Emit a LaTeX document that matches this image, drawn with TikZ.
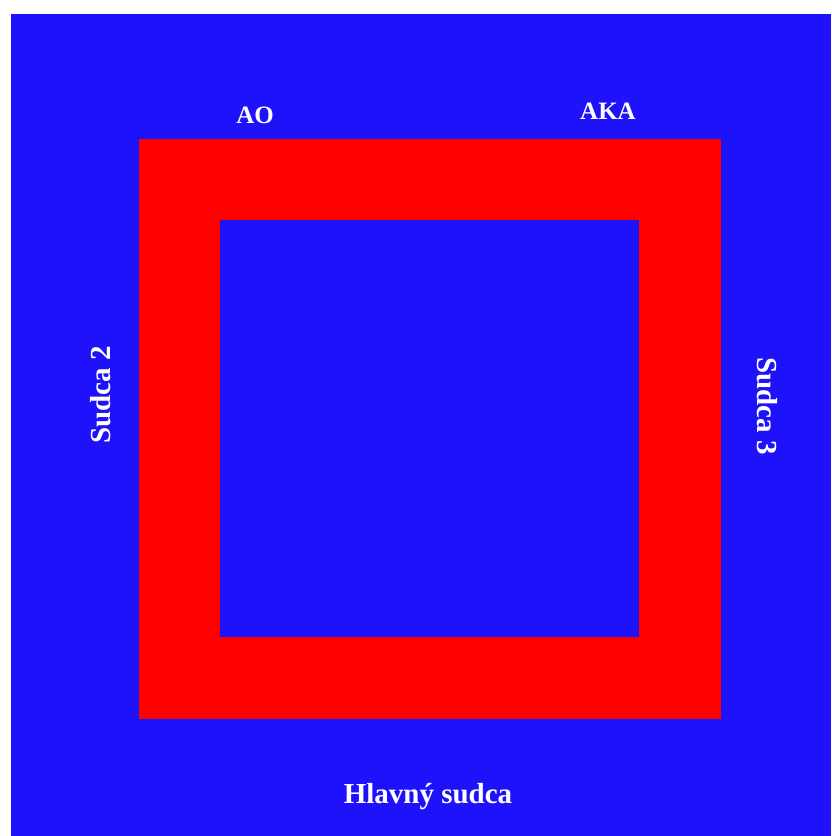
\documentclass[tikz,border=0pt]{standalone}
\usepackage{fontspec}
\setmainfont{Liberation Serif}
\definecolor{fieldblue}{RGB}{30,18,250}
\definecolor{matred}{RGB}{255,0,0}
\tikzset{
  judge/.style={text=white, font=\bfseries\fontsize{29}{30}\selectfont, anchor=base, inner sep=0pt},
  corner/.style={judge, font=\bfseries\fontsize{25}{26}\selectfont}
}
\begin{document}
\begin{tikzpicture}[x=1pt, y=-1pt, line join=round]
	\useasboundingbox (0,0) rectangle (831,836);
	\fill[fieldblue] (11,14) rectangle (831,836);
	\fill[matred] (139,139) rectangle (721,719);
	\fill[fieldblue] (220,220) rectangle (639,637);
	\node (ao) at (255,123) [corner] {AO};
	\node (aka) at (608,119) [corner] {AKA};
	\node (sudca2) at (110,395) [judge, rotate=90] {Sudca 2};
	\node (sudca3) at (757,406) [judge, rotate=-90] {Sudca 3};
	\node (hlavny) at (428,803) [judge] {Hlavný sudca};
\end{tikzpicture}
\end{document}
